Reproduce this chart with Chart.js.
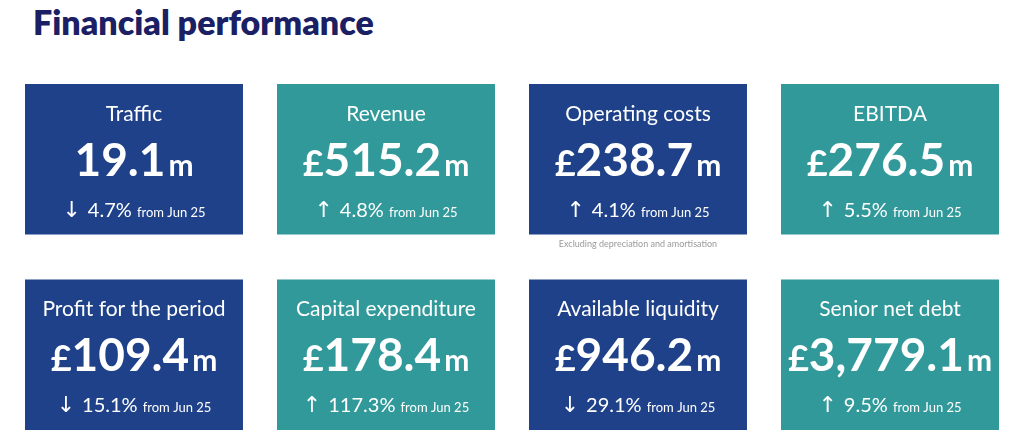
<!DOCTYPE html>
<html><head><meta charset="utf-8">
<script src="https://cdn.jsdelivr.net/npm/chart.js@4/dist/chart.umd.min.js"></script>
<style>
body{margin:0;background:#fff;font-family:Lato,"Noto Sans",sans-serif}
#wrap{position:relative;width:1020px;height:441px}
h1{position:absolute;left:33px;top:0;margin:0;font-size:34px;font-weight:800;color:#1b2064;line-height:44px}
canvas{position:absolute;left:0;top:0}
</style></head><body>
<div id="wrap"><h1>Financial performance</h1><canvas id="c" width="1020" height="441"></canvas></div>
<script>
const cols=['c1','c2','c3','c4'];
const titlesTop=['Traffic','Revenue','Operating costs','EBITDA'];
const titlesBottom=['Profit for the period','Capital expenditure','Available liquidity','Senior net debt'];
const valuesTop=['19.1','515.2','238.7','276.5'];
const valuesBottom=['109.4','178.4','946.2','3,779.1'];
const currencyTop=['','£','£','£'];
const currencyBottom=['£','£','£','£'];
const changeTop=['4.7%','4.8%','4.1%','5.5%'];
const changeBottom=['15.1%','117.3%','29.1%','9.5%'];
const dirTop=['down','up','up','up'];
const dirBottom=['down','up','down','up'];
const colorsTile=['#1e4189','#31999a','#1e4189','#31999a'];
const noteCol=2, noteText='Excluding depreciation and amortisation';
const rowTop=[1.13,2], rowBottom=[0,0.87];

const tileText=[
 {titles:titlesTop,values:valuesTop,cur:currencyTop,chg:changeTop,dir:dirTop},
 {titles:titlesBottom,values:valuesBottom,cur:currencyBottom,chg:changeBottom,dir:dirBottom}
];

const tilePlugin={id:'tiles',afterDatasetsDraw(chart){
 const ctx=chart.ctx;
 chart.data.datasets.forEach((ds,di)=>{
  const t=tileText[di];
  chart.getDatasetMeta(di).data.forEach((bar,i)=>{
   const cx=bar.x, top=bar.y;
   ctx.save();ctx.fillStyle='#fff';ctx.textBaseline='alphabetic';
   ctx.textAlign='center';ctx.font='21px Lato';
   ctx.fillText(t.titles[i],cx,top+37);
   // value
   const parts=[[t.cur[i],'bold 36px Lato'],[t.values[i],'bold 46px Lato'],['m','bold 30px Lato']];
   let w=0;parts.forEach(p=>{ctx.font=p[1];w+=ctx.measureText(p[0]).width+(p[0]==='m'?3:0);});
   let x=cx-w/2;ctx.textAlign='left';
   parts.forEach(p=>{ctx.font=p[1];if(p[0]==='m')x+=3;ctx.fillText(p[0],x,top+92);x+=ctx.measureText(p[0]).width;});
   // change
   const arrow=t.dir[i]==='up'?'↑':'↓';
   const c=[[arrow+' ','22px "DejaVu Sans"'],[t.chg[i]+' ','20px Lato'],['from Jun 25','13px Lato']];
   w=0;c.forEach(p=>{ctx.font=p[1];w+=ctx.measureText(p[0]).width;});
   x=cx-w/2;
   c.forEach(p=>{ctx.font=p[1];ctx.fillText(p[0],x,top+133);x+=ctx.measureText(p[0]).width;});
   if(di===0&&i===noteCol){ctx.fillStyle='#9a9a9a';ctx.font='9px Lato';ctx.textAlign='center';ctx.fillText(noteText,cx,bar.base+12);}
   ctx.restore();
  });
 });
}};

new Chart(document.getElementById('c'),{
 type:'bar',
 data:{labels:cols,datasets:[
  {data:cols.map(()=>rowTop),backgroundColor:colorsTile,grouped:false,barPercentage:0.865,categoryPercentage:1},
  {data:cols.map(()=>rowBottom),backgroundColor:colorsTile,grouped:false,barPercentage:0.865,categoryPercentage:1}
 ]},
 options:{responsive:false,animation:false,
  layout:{padding:{left:8,right:4,top:84,bottom:11}},
  plugins:{legend:{display:false},tooltip:{enabled:false}},
  scales:{x:{display:false},y:{display:false,min:0,max:2}}},
 plugins:[tilePlugin]
});
</script></body></html>
